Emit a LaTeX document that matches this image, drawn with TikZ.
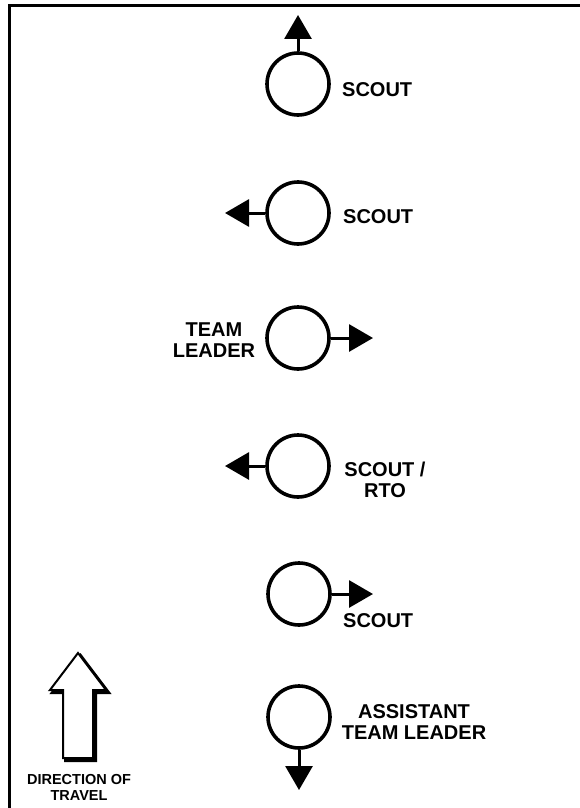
\documentclass[tikz,border=0pt]{standalone}
\usepackage{fontspec}
\setmainfont{Liberation Sans}
\usetikzlibrary{arrows.meta}
\begin{document}
\begin{tikzpicture}[x=1pt,y=-1pt,
  soldier/.style={circle, draw=black, line width=3.6pt, minimum size=62pt, inner sep=0pt},
  move/.style={line width=3pt, -{Triangle[length=24pt,width=27pt]}},
  lbl/.style={font=\fontsize{20}{21}\selectfont\bfseries, inner sep=0pt, align=center},
  small/.style={font=\fontsize{14.5}{16}\selectfont\bfseries, inner sep=0pt, align=center}]
\useasboundingbox (0,0) rectangle (580,808);
% frame (top and left only)
\draw[line width=3pt] (9,808) -- (9,6) -- (580,6);

% soldiers
\node[soldier] (c1) at (298,84) {};
\node[soldier] (c2) at (298,213) {};
\node[soldier] (c3) at (298,338) {};
\node[soldier] (c4) at (298,466) {};
\node[soldier] (c5) at (299,594) {};
\node[soldier] (c6) at (299,717) {};

% arrow ends
\coordinate (t1) at (298,15);
\coordinate (t2) at (225,213);
\coordinate (t3) at (373,338);
\coordinate (t4) at (225,466);
\coordinate (t5) at (373,594);
\coordinate (t6) at (299,790);

\draw[move] (c1) -- (t1);
\draw[move] (c2) -- (t2);
\draw[move] (c3) -- (t3);
\draw[move] (c4) -- (t4);
\draw[move] (c5) -- (t5);
\draw[move] (c6) -- (t6);

% labels
\node[lbl, anchor=base west] (l1) at (342,96) {SCOUT};
\node[lbl, anchor=base west] (l2) at (343,223) {SCOUT};
\node[lbl] (l3) at (214,340) {TEAM\\LEADER};
\node[lbl] (l4) at (385,480) {SCOUT /\\RTO};
\node[lbl, anchor=base west] (l5) at (343,627) {SCOUT};
\node[lbl] (l6) at (414,722) {ASSISTANT\\TEAM LEADER};

% direction of travel arrow
\begin{scope}[shift={(2.5,2.5)}]
\draw[line width=3pt, fill=black] (78,653) -- (106,690) -- (93,690) -- (93,758) -- (63,758) -- (63,690) -- (50,690) -- cycle;
\end{scope}
\draw[line width=2pt, fill=white, line join=miter] (78,653) -- (106,690) -- (93,690) -- (93,758) -- (63,758) -- (63,690) -- (50,690) -- cycle;
\node[small] (dir) at (79,787) {DIRECTION OF\\TRAVEL};
\end{tikzpicture}
\end{document}
